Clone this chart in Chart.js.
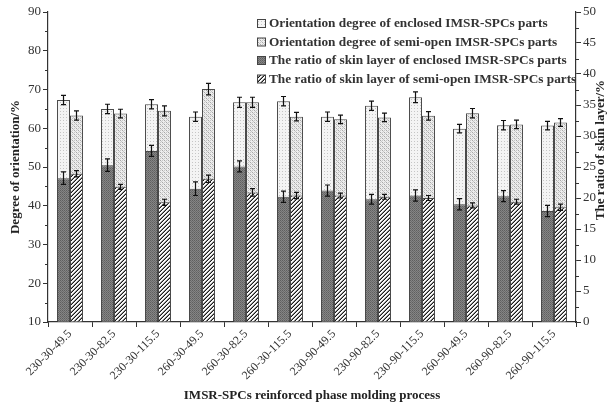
<!DOCTYPE html>
<html>
<head>
<meta charset="utf-8">
<script src="https://cdn.jsdelivr.net/npm/chart.js@4.4.0/dist/chart.umd.min.js"></script>
<style>
html, body { margin: 0; padding: 0; background: #fff; }
#chart { display: block; }
</style>
</head>
<body>
<canvas id="chart" width="609" height="409"></canvas>
<script>
const categories = ['230-30-49.5', '230-30-82.5', '230-30-115.5', '260-30-49.5', '260-30-82.5', '260-30-115.5',
  '230-90-49.5', '230-90-82.5', '230-90-115.5', '260-90-49.5', '260-90-82.5', '260-90-115.5'];

// degree of orientation (left axis, %)
const orientEnclosed = [67.3, 65.0, 66.2, 63.0, 66.7, 67.0, 63.0, 65.8, 68.0, 59.9, 60.8, 60.7];
const orientSemi     = [63.3, 63.8, 64.5, 70.1, 66.7, 63.0, 62.3, 62.8, 63.2, 63.9, 61.0, 61.5];
const orientEnclosedErr = [1.2, 1.2, 1.2, 1.2, 1.3, 1.2, 1.2, 1.2, 1.4, 1.1, 1.2, 1.1];
const orientSemiErr     = [1.2, 1.1, 1.3, 1.5, 1.3, 1.1, 1.1, 1.1, 1.1, 1.2, 1.1, 1.0];

// ratio of skin layer (right axis, %)
const skinEnclosed = [23.2, 25.3, 27.6, 21.5, 25.1, 20.2, 21.2, 19.8, 20.4, 19.0, 20.3, 17.9];
const skinSemi     = [23.9, 21.8, 19.3, 23.1, 20.9, 20.4, 20.4, 20.2, 20.0, 18.8, 19.4, 18.5];
const skinEnclosedErr = [1.0, 1.0, 0.9, 1.1, 0.9, 0.9, 0.9, 0.8, 0.9, 0.9, 0.9, 0.9];
const skinSemiErr     = [0.5, 0.4, 0.5, 0.6, 0.6, 0.5, 0.4, 0.4, 0.4, 0.4, 0.4, 0.5];

const legendLabels = [
  'Orientation degree of enclosed IMSR-SPCs parts',
  'Orientation degree of semi-open IMSR-SPCs parts',
  'The ratio of skin layer of enclosed IMSR-SPCs parts',
  'The ratio of skin layer of semi-open IMSR-SPCs parts'
];

const SERIF = '"Liberation Serif", "Times New Roman", serif';
const INK = '#222';

function makePattern(size, draw) {
  const c = document.createElement('canvas');
  c.width = size; c.height = size;
  const g = c.getContext('2d');
  draw(g, size);
  return g.createPattern(c, 'repeat');
}
function px(g, x, y, col) { g.fillStyle = col; g.fillRect(x, y, 1, 1); }

const dotFill = makePattern(3, g => {
  g.fillStyle = '#f4f4f4'; g.fillRect(0, 0, 3, 3);
  px(g, 0, 0, '#c6c6c6');
});
const checkFill = makePattern(4, g => {
  g.fillStyle = '#ededed'; g.fillRect(0, 0, 4, 4);
  px(g, 0, 0, '#a8a8a8'); px(g, 1, 1, '#c8c8c8');
  px(g, 2, 2, '#a8a8a8'); px(g, 3, 3, '#c8c8c8');
  px(g, 2, 0, '#c8c8c8'); px(g, 0, 2, '#c8c8c8');
});
const darkFill = makePattern(2, g => {
  g.fillStyle = '#858585'; g.fillRect(0, 0, 2, 2);
  px(g, 0, 0, '#5f5f5f'); px(g, 1, 1, '#6c6c6c');
});
const hatchFill = makePattern(4, g => {
  for (let x = 0; x < 4; x++) {
    for (let y = 0; y < 4; y++) {
      const k = (x + y) % 4;
      px(g, x, y, k === 3 ? '#1a1a1a' : k === 2 ? '#8a8a8a' : '#fafafa');
    }
  }
});

const fills = [dotFill, checkFill, darkFill, hatchFill];

const errorBars = {
  id: 'errorBars',
  afterDatasetsDraw(chart) {
    const ctx = chart.ctx;
    ctx.save();
    ctx.strokeStyle = '#111';
    ctx.lineWidth = 1.2;
    chart.data.datasets.forEach((ds, d) => {
      const meta = chart.getDatasetMeta(d);
      const scale = chart.scales[meta.yAxisID];
      meta.data.forEach((bar, i) => {
        const v = ds.data[i], e = ds.errors[i];
        const y1 = scale.getPixelForValue(v + e);
        const y2 = scale.getPixelForValue(v - e);
        ctx.beginPath();
        ctx.moveTo(bar.x, y1); ctx.lineTo(bar.x, y2);
        ctx.moveTo(bar.x - 2.5, y1); ctx.lineTo(bar.x + 2.5, y1);
        ctx.moveTo(bar.x - 2.5, y2); ctx.lineTo(bar.x + 2.5, y2);
        ctx.stroke();
      });
    });
    ctx.restore();
  }
};

const extras = {
  id: 'extras',
  afterDraw(chart) {
    const ctx = chart.ctx;
    const y = chart.scales.y, y2 = chart.scales.y2;
    ctx.save();
    // minor ticks
    ctx.strokeStyle = '#333';
    ctx.lineWidth = 1;
    ctx.beginPath();
    for (let v = 15; v < 90; v += 10) {
      const p = Math.round(y.getPixelForValue(v)) + 0.5;
      ctx.moveTo(y.right - 3, p); ctx.lineTo(y.right, p);
    }
    for (let v = 2.5; v < 50; v += 5) {
      const p = Math.round(y2.getPixelForValue(v)) + 0.5;
      ctx.moveTo(y2.left, p); ctx.lineTo(y2.left + 3, p);
    }
    ctx.stroke();

    // right axis title, reading bottom to top
    ctx.fillStyle = INK;
    ctx.font = 'bold 13px ' + SERIF;
    ctx.textAlign = 'center';
    ctx.textBaseline = 'middle';
    ctx.translate(601, 150);
    ctx.rotate(-Math.PI / 2);
    ctx.fillText('The ratio of skin layer/%', 0, 0);
    ctx.restore();

    // legend inside plot
    ctx.save();
    ctx.font = 'bold 13.3px ' + SERIF;
    ctx.textBaseline = 'middle';
    ctx.textAlign = 'left';
    const rows = [24, 42.5, 61, 79.5];
    legendLabels.forEach((t, i) => {
      ctx.fillStyle = fills[i];
      ctx.fillRect(257.5, rows[i] - 4.5, 8, 8);
      ctx.strokeStyle = '#444';
      ctx.lineWidth = 1;
      ctx.strokeRect(257.5, rows[i] - 4.5, 8, 8);
      ctx.fillStyle = '#333';
      ctx.fillText(t, 269, rows[i]);
    });
    ctx.restore();
  }
};

const barStyle = {
  borderColor: '#4a4a4a',
  borderWidth: 1,
  borderSkipped: 'bottom',
  categoryPercentage: 0.59,
  barPercentage: 1.0
};

new Chart(document.getElementById('chart'), {
  type: 'bar',
  data: {
    labels: categories,
    datasets: [
      { ...barStyle, label: legendLabels[0], data: orientEnclosed, errors: orientEnclosedErr,
        backgroundColor: dotFill, yAxisID: 'y', stack: 'enclosed', base: 10, order: 2 },
      { ...barStyle, label: legendLabels[1], data: orientSemi, errors: orientSemiErr,
        backgroundColor: checkFill, yAxisID: 'y', stack: 'semi', base: 10, order: 2 },
      { ...barStyle, label: legendLabels[2], data: skinEnclosed, errors: skinEnclosedErr,
        backgroundColor: darkFill, yAxisID: 'y2', stack: 'enclosed', order: 1 },
      { ...barStyle, label: legendLabels[3], data: skinSemi, errors: skinSemiErr,
        backgroundColor: hatchFill, yAxisID: 'y2', stack: 'semi', order: 1 }
    ]
  },
  options: {
    responsive: false,
    animation: false,
    layout: { padding: { top: 12, right: 0, left: 0, bottom: 0 } },
    plugins: {
      legend: { display: false },
      tooltip: { enabled: false }
    },
    scales: {
      x: {
        type: 'category',
        offset: true,
        afterFit: s => { s.height = 87; },
        grid: { offset: true, drawOnChartArea: false, tickLength: 5, color: '#333', lineWidth: 1 },
        border: { display: true, color: '#333', width: 1.2 },
        ticks: { autoSkip: false, minRotation: 45, maxRotation: 45, padding: 0,
          color: '#333', font: { family: SERIF, size: 12 } },
        title: { display: true, text: 'IMSR-SPCs reinforced phase molding process',
          color: INK, font: { family: SERIF, size: 13, weight: 'bold' }, padding: { top: 0, bottom: 6 } }
      },
      y: {
        position: 'left',
        min: 10, max: 90,
        afterFit: s => { s.width = 48; },
        grid: { drawOnChartArea: false, tickLength: 5, color: '#333' },
        border: { display: true, color: '#333', width: 1.2 },
        ticks: { stepSize: 10, padding: 2, color: '#333', font: { family: SERIF, size: 13 } },
        title: { display: true, text: 'Degree of orientation/%', color: INK,
          font: { family: SERIF, size: 13, weight: 'bold' }, padding: { top: 8, bottom: 0 } }
      },
      y2: {
        position: 'right',
        min: 0, max: 50,
        afterFit: s => { s.width = 33; },
        grid: { drawOnChartArea: false, tickLength: 5, color: '#333' },
        border: { display: true, color: '#333', width: 1.2 },
        ticks: { stepSize: 5, padding: 2, color: '#333', font: { family: SERIF, size: 13 } }
      }
    }
  },
  plugins: [errorBars, extras]
});
</script>
</body>
</html>
